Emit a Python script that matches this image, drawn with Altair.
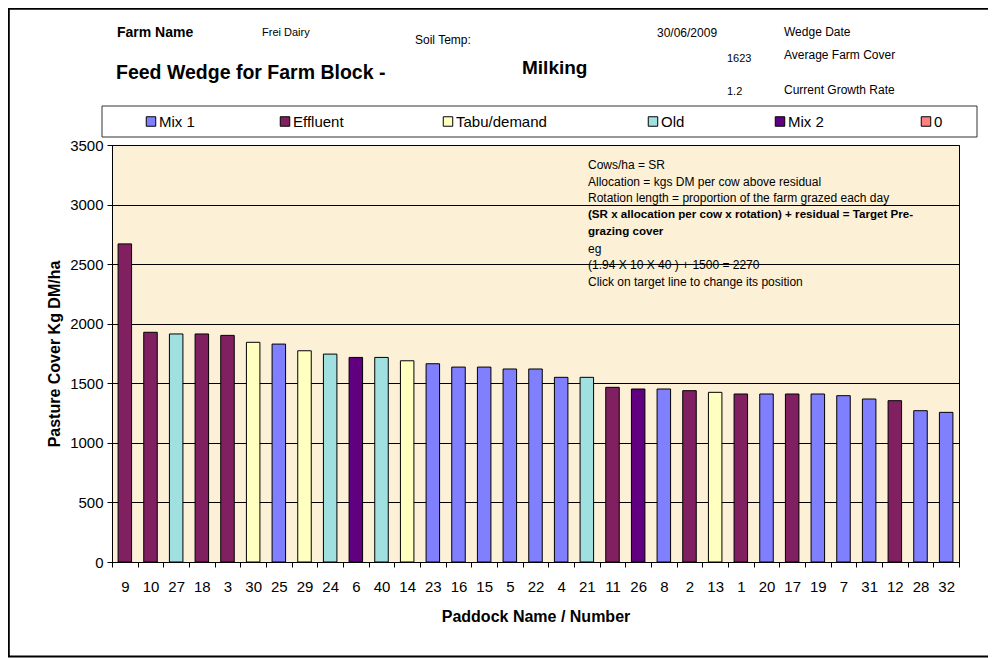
import altair as alt
import pandas as pd

# ---------------- data ----------------
paddocks = ["9", "10", "27", "18", "3", "30", "25", "29", "24", "6", "40", "14", "23", "16", "15",
            "5", "22", "4", "21", "11", "26", "8", "2", "13", "1", "20", "17", "19", "7", "31",
            "12", "28", "32"]
covers = [2670, 1928, 1914, 1914, 1902, 1844, 1829, 1773, 1745, 1717, 1717, 1689, 1664, 1636, 1636,
          1620, 1620, 1550, 1550, 1466, 1452, 1452, 1438, 1424, 1410, 1410, 1410, 1410, 1396, 1368,
          1354, 1270, 1256]
groups = ["Effluent", "Effluent", "Old", "Effluent", "Effluent", "Tabu/demand", "Mix 1", "Tabu/demand",
          "Old", "Mix 2", "Old", "Tabu/demand", "Mix 1", "Mix 1", "Mix 1", "Mix 1", "Mix 1", "Mix 1",
          "Old", "Effluent", "Mix 2", "Mix 1", "Effluent", "Tabu/demand", "Effluent", "Mix 1",
          "Effluent", "Mix 1", "Mix 1", "Mix 1", "Effluent", "Mix 1", "Mix 1"]
legend_groups = ["Mix 1", "Effluent", "Tabu/demand", "Old", "Mix 2", "0"]
group_colors = ["#8080FF", "#802060", "#FFFFC0", "#A0E0E0", "#600080", "#FF8080"]
y_ticks = [0, 500, 1000, 1500, 2000, 2500, 3000, 3500]

farm_label = "Farm Name"
farm_name = "Frei Dairy"
soil_label = "Soil Temp:"
title_text = "Feed Wedge for Farm Block -"
block_name = "Milking"
wedge_date = "30/06/2009"
wedge_label = "Wedge Date"
avg_cover = "1623"
avg_label = "Average Farm Cover"
growth_rate = "1.2"
growth_label = "Current Growth Rate"

note_lines = ["Cows/ha = SR",
              "Allocation = kgs DM per cow above residual",
              "Rotation length = proportion of the farm grazed each day",
              "(SR x allocation per cow x rotation) + residual = Target Pre-",
              "grazing cover",
              "eg",
              "(1.94 X 10 X 40 ) + 1500 = 2270",
              "Click on target line to change its position"]
note_bold = [False, False, False, True, True, False, False, False]

# ---------------- layout (pixels, relative to plot origin) ----------------
FONT = "Liberation Sans"
W, H = 847, 417
legend_x = [34, 168, 331, 536, 663, 809]
legend_y = -23.5

df = pd.DataFrame({"paddock": paddocks, "cover": covers, "group": groups})
one = pd.DataFrame({"k": [0]})


def rule(x, x2, y, y2, width=1, color="black"):
    return alt.Chart(one).mark_rule(color=color, strokeWidth=width).encode(
        x=alt.value(x), x2=alt.value(x2), y=alt.value(y), y2=alt.value(y2))


def label(text, x, y, size, bold=False, align="left"):
    d = pd.DataFrame({"t": [text]})
    return alt.Chart(d).mark_text(font=FONT, fontSize=size, align=align, baseline="middle",
                                  fontWeight="bold" if bold else "normal", color="black").encode(
        x=alt.value(x), y=alt.value(y), text="t:N")


# outer frame (left, top, bottom)
frame = [
    rule(-103.2, -103.2, -136.2, 511.5, 2),
    rule(-104, 876, -136.2, -136.2, 2),
    rule(-104, 876, 511.5, 511.5, 2),
]

legend_box = alt.Chart(one).mark_rect(fill="white", stroke="#333333", strokeWidth=1).encode(
    x=alt.value(-10), x2=alt.value(865), y=alt.value(-39), y2=alt.value(-8))

legend_items = []
for name, col, lx in zip(legend_groups, group_colors, legend_x):
    d = pd.DataFrame({"t": [name]})
    legend_items.append(
        alt.Chart(d).mark_square(size=90, fill=col, stroke="black", strokeWidth=1, opacity=1).encode(
            x=alt.value(lx + 5), y=alt.value(legend_y)))
    legend_items.append(label(name, lx + 13, legend_y, 15))

header = [
    label(farm_label, 5, -112, 14, True),
    label(farm_name, 150, -112, 11),
    label(soil_label, 303, -105, 12),
    label(title_text, 4, -72, 19.5, True),
    label(block_name, 410, -77, 19, True),
    label(wedge_date, 545, -112, 12),
    label(wedge_label, 672, -113, 12),
    label(avg_cover, 615, -86, 11),
    label(avg_label, 672, -90, 12),
    label(growth_rate, 615, -53, 11),
    label(growth_label, 672, -55, 12),
]

notes = [label(t, 476, 20 + i * 16.7, 11.6 if b else 12, b)
         for i, (t, b) in enumerate(zip(note_lines, note_bold))]

bars = alt.Chart(df).mark_bar(width=alt.RelativeBandSize(0.5263), stroke="black", strokeWidth=1).encode(
    x=alt.X("paddock:N", sort=paddocks,
            scale=alt.Scale(paddingInner=0, paddingOuter=0),
            axis=alt.Axis(title="Paddock Name / Number", tickBand="extent", labelAngle=0,
                          grid=False, tickSize=5, labelPadding=12, titlePadding=14)),
    y=alt.Y("cover:Q", scale=alt.Scale(domain=[0, 3500], nice=False),
            axis=alt.Axis(title="Pasture Cover Kg DM/ha", values=y_ticks, format="d", grid=True,
                          gridColor="black", gridOpacity=1, gridWidth=1, tickSize=5,
                          labelPadding=4, titlePadding=7)),
    color=alt.Color("group:N", scale=alt.Scale(domain=legend_groups, range=group_colors),
                    legend=None),
)

chart = alt.layer(*frame, legend_box, *legend_items, *header, bars, *notes).properties(
    width=W, height=H,
    autosize=alt.AutoSizeParams(type="none"),
    padding={"left": 104, "top": 137, "right": 29, "bottom": 96},
    background="white",
).configure_view(
    fill="#FCF0D7", stroke="black", strokeWidth=1
).configure_axis(
    labelFont=FONT, titleFont=FONT, labelFontSize=15, labelColor="black",
    titleFontSize=16, titleFontWeight="bold", titleColor="black",
    domainColor="black", tickColor="black", domainWidth=1,
)

chart.save("out.html", embed_options={"renderer": "svg", "actions": False})
